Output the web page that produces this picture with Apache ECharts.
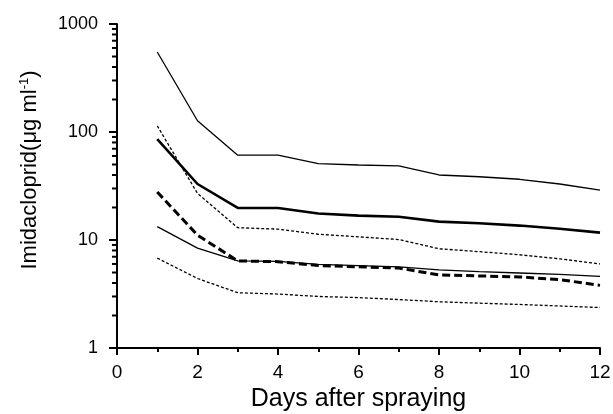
<!DOCTYPE html>
<html>
<head>
<meta charset="utf-8">
<title>Imidacloprid</title>
<script src="https://cdn.jsdelivr.net/npm/echarts@6/dist/echarts.min.js"></script>
<style>
  html, body { margin: 0; padding: 0; background: #fff; }
  #main { width: 613px; height: 414px; }
</style>
</head>
<body>
<div id="main"></div>
<script>
// days after spraying
var days = [1, 2, 3, 4, 5, 6, 7, 8, 9, 10, 11, 12];
// residue values (ug/ml)
var topSolid = [550, 127, 61, 61, 51, 49.5, 48.5, 40, 38.5, 36.5, 33, 29];
var thickSolid = [86, 33, 19.8, 19.8, 17.6, 16.8, 16.4, 14.8, 14.3, 13.6, 12.7, 11.7];
var upperDotted = [114, 27, 13, 12.6, 11.3, 10.7, 10.1, 8.3, 7.8, 7.3, 6.7, 6.0];
var thickDashed = [27.8, 11.1, 6.4, 6.3, 5.8, 5.65, 5.5, 4.75, 4.65, 4.55, 4.3, 3.8];
var lowerSolid = [13.3, 8.4, 6.4, 6.35, 5.95, 5.8, 5.65, 5.3, 5.1, 4.95, 4.8, 4.6];
var lowerDotted = [6.8, 4.4, 3.25, 3.16, 3.0, 2.93, 2.81, 2.68, 2.6, 2.53, 2.45, 2.37];
// minor tick positions on the log axis
var minorTickValues = [2, 3, 4, 5, 6, 7, 8, 9, 20, 30, 40, 50, 60, 70, 80, 90, 200, 300, 400, 500, 600, 700, 800, 900];

function pairs(vals) {
  var out = [];
  for (var i = 0; i < days.length; i++) {
    out.push([days[i], vals[i]]);
  }
  return out;
}

function lineSeries(vals, width, type) {
  return {
    type: 'line',
    data: pairs(vals),
    symbol: 'none',
    silent: true,
    lineStyle: { color: '#000', width: width, type: type }
  };
}

var myChart = echarts.init(document.getElementById('main'));

var option = {
  backgroundColor: '#fff',
  animation: false,
  grid: { left: 117, right: 13, top: 24, bottom: 66, outerBoundsMode: 'none' },
  xAxis: {
    type: 'value',
    min: 0,
    max: 12,
    interval: 2,
    name: 'Days after spraying',
    nameLocation: 'middle',
    nameGap: 37,
    nameTextStyle: { fontFamily: 'Liberation Sans', fontSize: 25, color: '#000' },
    axisLine: { lineStyle: { color: '#000', width: 2 } },
    axisTick: { length: 7, lineStyle: { color: '#000', width: 2 } },
    minorTick: { show: true, splitNumber: 2, length: 4, lineStyle: { color: '#000', width: 2 } },
    axisLabel: { fontFamily: 'Liberation Sans', fontSize: 19, color: '#000', margin: 15 },
    splitLine: { show: false }
  },
  yAxis: {
    type: 'log',
    logBase: 10,
    min: 1,
    max: 1000,
    name: '{a|Imidacloprid(μg ml}{s|-1}{a|)}',
    nameLocation: 'middle',
    nameRotate: 90,
    nameGap: 76,
    nameTextStyle: {
      color: '#000',
      padding: [0, 0, 0, 32],
      rich: {
        a: { fontFamily: 'Liberation Sans', fontSize: 22, color: '#000' },
        s: { fontFamily: 'Liberation Sans', fontSize: 13, color: '#000', verticalAlign: 'top', padding: [0, 0, 10, 0] }
      }
    },
    axisLine: { show: true, lineStyle: { color: '#000', width: 2 } },
    axisTick: { length: 8, lineStyle: { color: '#000', width: 2 } },
    axisLabel: {
      fontFamily: 'Liberation Sans', fontSize: 18, color: '#000', margin: 19,
      formatter: function (v) { return String(v); }
    },
    splitLine: { show: false }
  },
  series: [
    lineSeries(topSolid, 1.3, 'solid'),
    lineSeries(thickSolid, 2.6, 'solid'),
    lineSeries(upperDotted, 1.3, [3, 2]),
    lineSeries(thickDashed, 3, [8, 4]),
    lineSeries(lowerSolid, 1.3, 'solid'),
    lineSeries(lowerDotted, 1.3, [3, 2]),
    {
      type: 'custom',
      silent: true,
      clip: false,
      data: minorTickValues.map(function (v) { return [0, v]; }),
      renderItem: function (params, api) {
        var p = api.coord([api.value(0), api.value(1)]);
        return {
          type: 'line',
          shape: { x1: p[0] - 5, y1: p[1], x2: p[0], y2: p[1] },
          style: { stroke: '#000', lineWidth: 2 }
        };
      }
    }
  ]
};

myChart.setOption(option);
</script>
</body>
</html>
